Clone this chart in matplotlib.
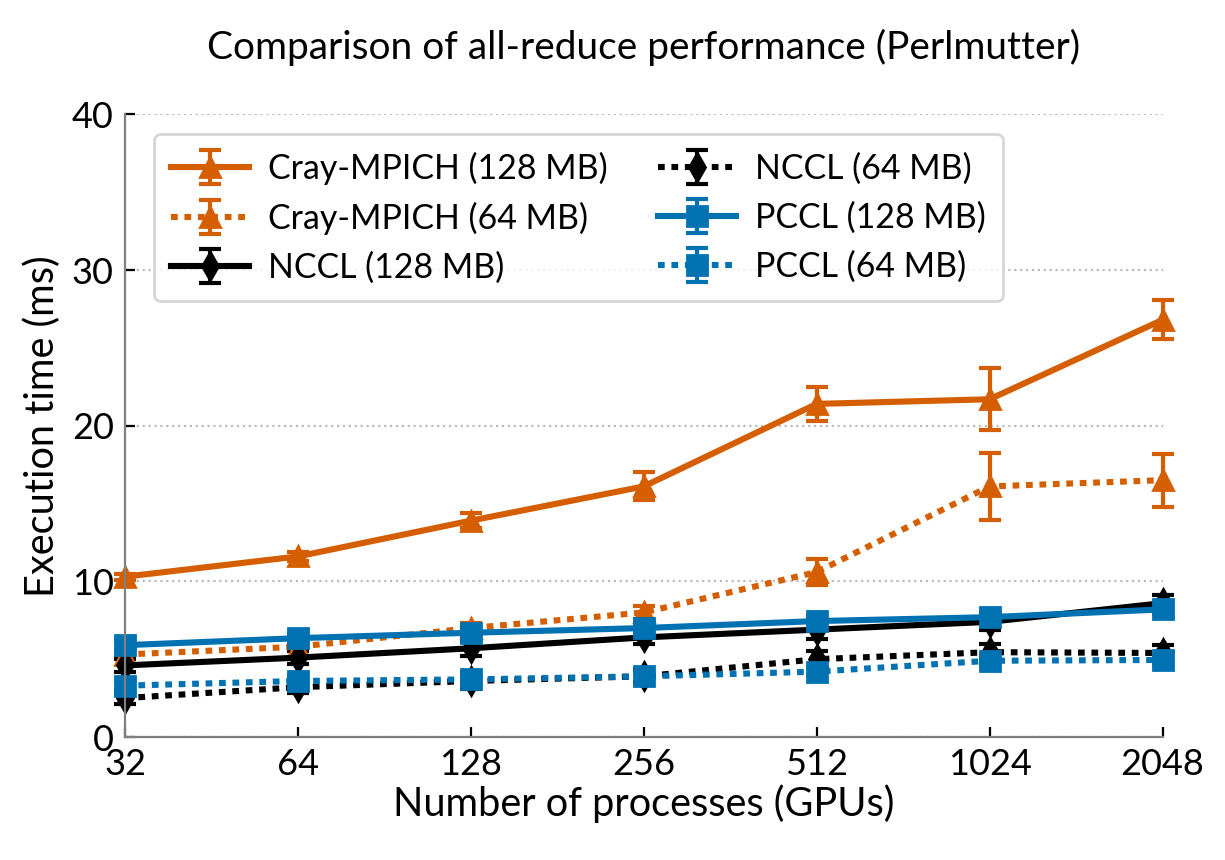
import matplotlib
matplotlib.use("Agg")
import matplotlib.pyplot as plt

# data
gpus = [32, 64, 128, 256, 512, 1024, 2048]

cray128 = [10.3, 11.6, 13.9, 16.1, 21.4, 21.7, 26.8]
cray128_err = [0.2, 0.3, 0.5, 0.9, 1.1, 2.0, 1.25]
cray64 = [5.3, 5.8, 7.0, 8.0, 10.6, 16.1, 16.5]
cray64_err = [0.2, 0.2, 0.3, 0.4, 0.85, 2.15, 1.7]

nccl128 = [4.6, 5.1, 5.7, 6.4, 6.9, 7.4, 8.6]
nccl128_err = [0.4, 0.4, 0.5, 0.4, 0.6, 0.5, 0.5]
nccl64 = [2.5, 3.2, 3.6, 3.9, 5.0, 5.45, 5.4]
nccl64_err = [0.4, 0.4, 0.5, 0.4, 0.5, 0.5, 0.5]

pccl128 = [5.9, 6.35, 6.7, 7.0, 7.45, 7.7, 8.2]
pccl128_err = [0.3, 0.3, 0.3, 0.3, 0.3, 0.3, 0.3]
pccl64 = [3.3, 3.6, 3.7, 3.9, 4.2, 4.9, 4.95]
pccl64_err = [0.3, 0.3, 0.3, 0.3, 0.3, 0.3, 0.3]

orange = "#D55E00"
blue = "#0072B2"

plt.rcParams["font.family"] = ["Lato", "DejaVu Sans"]

fig = plt.figure(figsize=(6.125, 4.3), dpi=200)
ax = fig.add_axes([0.102, 0.143, 0.847, 0.724])

series = [
    (cray128, cray128_err, orange, "-", "^", "Cray-MPICH (128 MB)"),
    (cray64, cray64_err, orange, ":", "^", "Cray-MPICH (64 MB)"),
    (nccl128, nccl128_err, "black", "-", "d", "NCCL (128 MB)"),
    (nccl64, nccl64_err, "black", ":", "d", "NCCL (64 MB)"),
    (pccl128, pccl128_err, blue, "-", "s", "PCCL (128 MB)"),
    (pccl64, pccl64_err, blue, ":", "s", "PCCL (64 MB)"),
]

for vals, err, col, ls, mk, lab in series:
    eb = ax.errorbar(gpus, vals, yerr=err, color=col, linestyle="-", marker=mk,
                     markersize=7, linewidth=2.2, elinewidth=1.5, capsize=4,
                     capthick=1.5, label=lab, clip_on=False)
    if ls == ":":
        eb.lines[0].set_dashes((1.1, 1.1))
    for part in eb.lines[1]:
        part.set_clip_on(False)
    for part in eb.lines[2]:
        part.set_clip_on(False)

ax.set_xscale("log", base=2)
ax.set_xlim(32, 2048)
ax.set_ylim(0, 40)
ax.set_xticks(gpus)
ax.set_xticklabels([str(g) for g in gpus])
ax.minorticks_off()
ax.set_yticks([0, 10, 20, 30, 40])

ax.tick_params(direction="in", length=3.5, width=0.8, labelsize=13, pad=4)
ax.spines["top"].set_visible(False)
ax.spines["right"].set_visible(False)
ax.spines["left"].set_color("gray")
ax.spines["bottom"].set_color("gray")

ax.yaxis.grid(True, linestyle=":", color="#bbbbbb", linewidth=0.8)
ax.set_axisbelow(True)

ax.set_xlabel("Number of processes (GPUs)", fontsize=14.3, labelpad=1)
ax.set_ylabel("Execution time (ms)", fontsize=14.3, labelpad=4)
ax.set_title("Comparison of all-reduce performance (Perlmutter)", fontsize=14, pad=20)

leg = ax.legend(ncol=2, fontsize=12.2, loc="upper left", bbox_to_anchor=(0.012, 0.995),
                frameon=True, fancybox=True, columnspacing=1.5, handlelength=2.3,
                handletextpad=0.55, borderpad=0.5, labelspacing=0.5)
leg.get_frame().set_edgecolor("#cccccc")

fig.savefig("out.png", dpi=200)
